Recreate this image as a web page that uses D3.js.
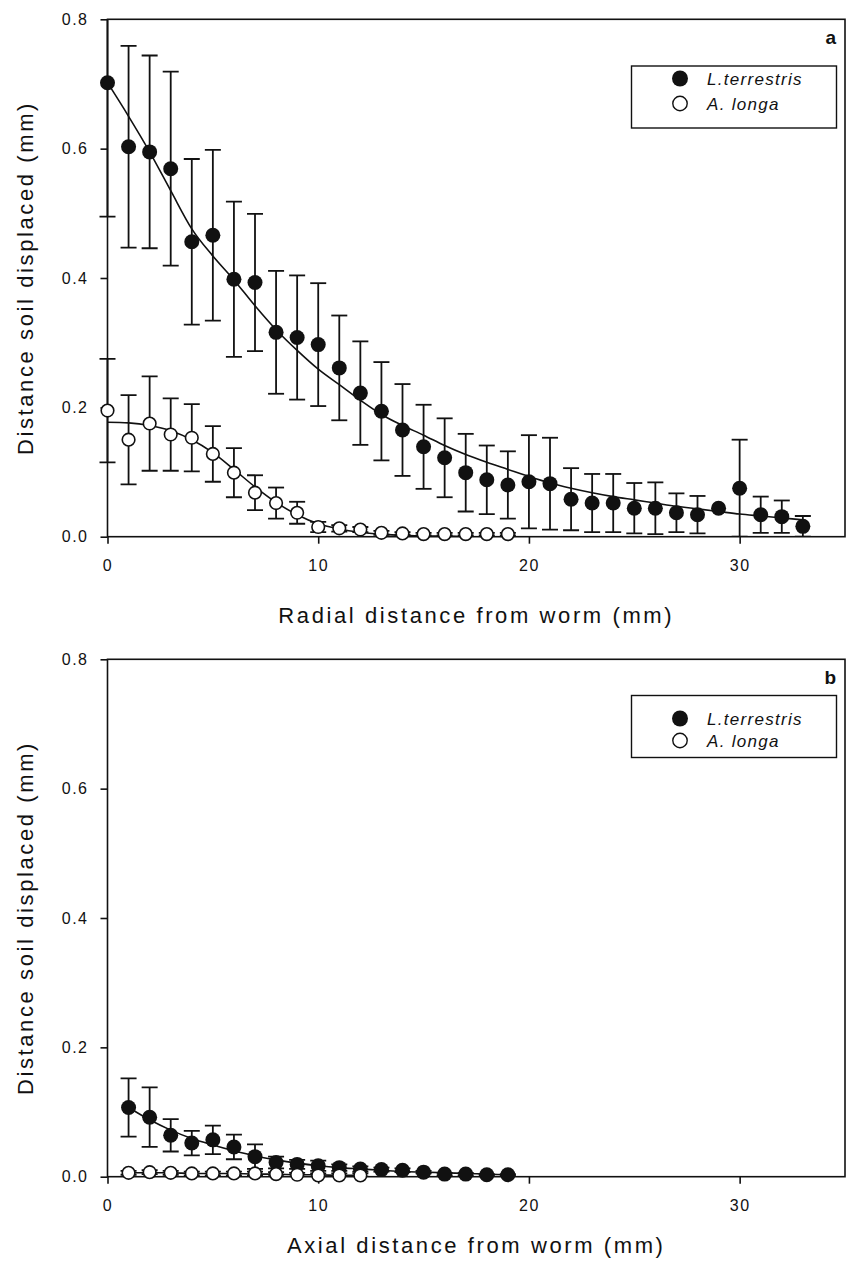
<!DOCTYPE html>
<html>
<head>
<meta charset="utf-8">
<script src="https://d3js.org/d3.v7.min.js"></script>
<style>
  body { margin: 0; background: #fff; }
  text { font-family: "Liberation Sans", Arial, sans-serif; fill: #111; }
</style>
</head>
<body>
<div id="chart"></div>
<script>
// panel a: radial distance
var ltXA = d3.range(0, 34);
var ltMeanA = [0.702, 0.603, 0.595, 0.569, 0.456, 0.466, 0.398, 0.393, 0.316, 0.308, 0.297, 0.261, 0.222, 0.194, 0.165, 0.139, 0.122, 0.099, 0.088, 0.080, 0.085, 0.082, 0.058, 0.052, 0.052, 0.044, 0.044, 0.037, 0.034, 0.044, 0.075, 0.034, 0.031, 0.016];
var ltErrA = [0.207, 0.156, 0.149, 0.150, 0.128, 0.132, 0.120, 0.106, 0.095, 0.096, 0.095, 0.081, 0.080, 0.076, 0.071, 0.065, 0.061, 0.060, 0.053, 0.052, 0.072, 0.071, 0.048, 0.045, 0.045, 0.039, 0.040, 0.030, 0.029, 0, 0.075, 0.028, 0.025, 0.016];
var ltFitA = [0.702, 0.650, 0.595, 0.535, 0.476, 0.434, 0.397, 0.357, 0.320, 0.288, 0.259, 0.235, 0.211, 0.189, 0.172, 0.157, 0.141, 0.127, 0.115, 0.104, 0.093, 0.083, 0.075, 0.068, 0.062, 0.057, 0.052, 0.047, 0.043, 0.039, 0.035, 0.032, 0.029, 0.026];

var alXA = d3.range(0, 20);
var alMeanA = [0.195, 0.150, 0.175, 0.158, 0.153, 0.128, 0.099, 0.068, 0.052, 0.037, 0.015, 0.013, 0.011, 0.006, 0.005, 0.004, 0.004, 0.004, 0.004, 0.004];
var alErrA = [0.080, 0.069, 0.073, 0.056, 0.052, 0.043, 0.038, 0.027, 0.024, 0.017, 0.008, 0.005, 0.004, 0.003, 0.002, 0.002, 0.002, 0.002, 0.002, 0.002];
var alFitA = [0.177, 0.176, 0.172, 0.164, 0.150, 0.130, 0.104, 0.077, 0.053, 0.034, 0.020, 0.012, 0.007, 0.004, 0.002, 0.001, 0.001, 0.000, 0.000, 0.000];

// panel b: axial distance
var ltXB = d3.range(1, 20);
var ltMeanB = [0.107, 0.092, 0.064, 0.052, 0.057, 0.046, 0.031, 0.022, 0.019, 0.017, 0.014, 0.012, 0.011, 0.010, 0.007, 0.004, 0.004, 0.003, 0.003];
var ltErrB = [0.045, 0.046, 0.025, 0.019, 0.022, 0.019, 0.019, 0.009, 0.007, 0.008, 0.005, 0.004, 0.003, 0.003, 0.002, 0.002, 0.002, 0.001, 0.001];
var ltFitB = [0.107, 0.088, 0.072, 0.059, 0.049, 0.040, 0.032, 0.026, 0.021, 0.017, 0.014, 0.012, 0.010, 0.008, 0.007, 0.006, 0.005, 0.004, 0.003];

var alXB = d3.range(1, 13);
var alMeanB = [0.006, 0.007, 0.006, 0.005, 0.005, 0.005, 0.005, 0.004, 0.003, 0.002, 0.002, 0.002];
var alErrB = [0.003, 0.003, 0.003, 0.003, 0.003, 0.003, 0.003, 0.003, 0.003, 0.003, 0.003, 0.003];
var alFitB = [0.006, 0.006, 0.006, 0.005, 0.005, 0.005, 0.004, 0.004, 0.003, 0.003, 0.002, 0.002];

var xTicks = [0, 10, 20, 30];
var yTicks = [0.0, 0.2, 0.4, 0.6, 0.8];
var seriesNames = ["L.terrestris", "A. longa"];

var W = 847, H = 1265;
var left = 107.5, right = 845;

var svg = d3.select("#chart").append("svg")
    .attr("width", W)
    .attr("height", H);

function zip(xs, ys, es) {
    return xs.map(function(x, i) {
        return { x: x, y: ys[i], e: es ? es[i] : 0 };
    });
}

function panel(opt) {
    var x = d3.scaleLinear().domain([0, 35]).range([left, right]);
    var y = d3.scaleLinear().domain([0, 0.8]).range([opt.bottom, opt.top]);
    var g = svg.append("g");

    g.append("clipPath").attr("id", "clip-" + opt.id)
      .append("rect")
        .attr("x", left - 10).attr("y", opt.top)
        .attr("width", right - left + 10).attr("height", opt.bottom - opt.top);

    var plot = g.append("g").attr("clip-path", "url(#clip-" + opt.id + ")");

    var line = d3.line()
        .x(function(d) { return x(d.x); })
        .y(function(d) { return y(d.y); })
        .curve(d3.curveMonotoneX);

    // fitted curves
    [opt.ltFit, opt.alFit].forEach(function(f) {
        plot.append("path")
            .datum(f)
            .attr("d", line)
            .attr("fill", "none")
            .attr("stroke", "#111")
            .attr("stroke-width", 1.6);
    });

    // error bars
    [opt.lt, opt.al].forEach(function(s) {
        var bars = plot.selectAll(null)
            .data(s.filter(function(d) { return d.e > 0; }))
            .enter().append("g")
            .attr("stroke", "#111")
            .attr("stroke-width", 1.8);
        bars.append("line")
            .attr("x1", function(d) { return x(d.x); })
            .attr("x2", function(d) { return x(d.x); })
            .attr("y1", function(d) { return y(Math.max(0, d.y - d.e)); })
            .attr("y2", function(d) { return y(d.y + d.e); });
        [1, -1].forEach(function(sign) {
            bars.append("line")
                .attr("x1", function(d) { return x(d.x) - 8; })
                .attr("x2", function(d) { return x(d.x) + 8; })
                .attr("y1", function(d) { return y(Math.max(0, d.y + sign * d.e)); })
                .attr("y2", function(d) { return y(Math.max(0, d.y + sign * d.e)); });
        });
    });

    // axes
    var xAxis = d3.axisBottom(x).tickValues(xTicks).tickSize(7).tickSizeOuter(0).tickPadding(16);
    var yAxis = d3.axisLeft(y).tickValues(yTicks).tickSize(7).tickSizeOuter(0)
        .tickPadding(12).tickFormat(d3.format(".1f"));

    var xa = g.append("g").attr("transform", "translate(0," + opt.bottom + ")").call(xAxis);
    var ya = g.append("g").attr("transform", "translate(" + left + ",0)").call(yAxis);
    [xa, ya].forEach(function(a) {
        a.select(".domain").remove();
        a.selectAll(".tick line").attr("stroke", "#111").attr("stroke-width", 1.6);
        a.selectAll(".tick text")
            .attr("fill", "#111")
            .style("font-size", "16px")
            .style("letter-spacing", "1.5px")
            .style("font-family", "'Liberation Sans', Arial, sans-serif");
    });

    // frame
    g.append("rect")
        .attr("x", left).attr("y", opt.top)
        .attr("width", right - left).attr("height", opt.bottom - opt.top)
        .attr("fill", "none")
        .attr("stroke", "#111")
        .attr("stroke-width", 1.6);

    // points on top
    var pts = g.append("g");
    pts.selectAll(null).data(opt.lt).enter().append("circle")
        .attr("cx", function(d) { return x(d.x); })
        .attr("cy", function(d) { return y(d.y); })
        .attr("r", 7.5)
        .attr("fill", "#111");
    pts.selectAll(null).data(opt.al).enter().append("circle")
        .attr("cx", function(d) { return x(d.x); })
        .attr("cy", function(d) { return y(d.y); })
        .attr("r", 6.3)
        .attr("fill", "#fff")
        .attr("stroke", "#111")
        .attr("stroke-width", 1.6);

    // titles
    g.append("text")
        .attr("x", (left + right) / 2)
        .attr("y", opt.bottom + opt.titleGap)
        .attr("text-anchor", "middle")
        .style("font-size", "22px")
        .style("letter-spacing", "2.6px")
        .text(opt.xTitle);

    g.append("text")
        .attr("transform", "translate(33," + ((opt.top + opt.bottom) / 2) + ") rotate(-90)")
        .attr("text-anchor", "middle")
        .style("font-size", "22px")
        .style("letter-spacing", "2.6px")
        .text("Distance soil displaced (mm)");

    g.append("text")
        .attr("x", 836)
        .attr("y", opt.top + 25)
        .attr("text-anchor", "end")
        .style("font-size", "19px")
        .style("font-weight", "bold")
        .text(opt.id);

    // legend
    var lg = g.append("g");
    lg.append("rect")
        .attr("x", 631.5).attr("y", opt.legTop)
        .attr("width", 205).attr("height", 62)
        .attr("fill", "#fff")
        .attr("stroke", "#111")
        .attr("stroke-width", 1.4);
    seriesNames.forEach(function(name, i) {
        var cy = opt.legRows[i];
        lg.append("circle")
            .attr("cx", 680).attr("cy", cy)
            .attr("r", i === 0 ? 8 : 7.2)
            .attr("fill", i === 0 ? "#111" : "#fff")
            .attr("stroke", "#111")
            .attr("stroke-width", i === 0 ? 0 : 1.4);
        lg.append("text")
            .attr("x", 707).attr("y", cy + 6.5)
            .style("font-size", "17px")
            .style("font-style", "italic")
            .style("letter-spacing", "1.3px")
            .text(name);
    });
}

panel({
    id: "a", top: 19.3, bottom: 536.7,
    lt: zip(ltXA, ltMeanA, ltErrA), al: zip(alXA, alMeanA, alErrA),
    ltFit: zip(ltXA, ltFitA), alFit: zip(alXA, alFitA),
    xTitle: "Radial distance from worm (mm)", titleGap: 86,
    legTop: 66, legRows: [78.5, 103.5]
});

panel({
    id: "b", top: 659.3, bottom: 1176.7,
    lt: zip(ltXB, ltMeanB, ltErrB), al: zip(alXB, alMeanB, alErrB),
    ltFit: zip(ltXB, ltFitB), alFit: zip(alXB, alFitB),
    xTitle: "Axial distance from worm (mm)", titleGap: 76,
    legTop: 695.5, legRows: [718.5, 740.5]
});
</script>
</body>
</html>
